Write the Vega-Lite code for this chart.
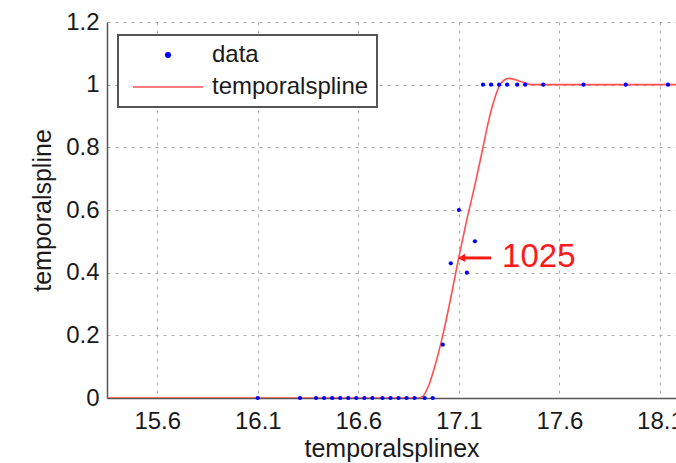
{
  "$schema": "https://vega.github.io/schema/vega-lite/v6.json",
  "autosize": {"type": "none"},
  "width": 569,
  "height": 376,
  "padding": {"left": 107, "top": 22, "right": 0, "bottom": 65},
  "background": "white",
  "datasets": {
    "pts": [
      {"x": 16.10, "y": 0, "series": "data"},
      {"x": 16.31, "y": 0, "series": "data"},
      {"x": 16.39, "y": 0, "series": "data"},
      {"x": 16.43, "y": 0, "series": "data"},
      {"x": 16.47, "y": 0, "series": "data"},
      {"x": 16.51, "y": 0, "series": "data"},
      {"x": 16.55, "y": 0, "series": "data"},
      {"x": 16.59, "y": 0, "series": "data"},
      {"x": 16.63, "y": 0, "series": "data"},
      {"x": 16.67, "y": 0, "series": "data"},
      {"x": 16.72, "y": 0, "series": "data"},
      {"x": 16.76, "y": 0, "series": "data"},
      {"x": 16.80, "y": 0, "series": "data"},
      {"x": 16.84, "y": 0, "series": "data"},
      {"x": 16.88, "y": 0, "series": "data"},
      {"x": 16.93, "y": 0, "series": "data"},
      {"x": 16.97, "y": 0, "series": "data"},
      {"x": 17.02, "y": 0.17, "series": "data"},
      {"x": 17.06, "y": 0.43, "series": "data"},
      {"x": 17.10, "y": 0.60, "series": "data"},
      {"x": 17.14, "y": 0.40, "series": "data"},
      {"x": 17.18, "y": 0.50, "series": "data"},
      {"x": 17.22, "y": 1, "series": "data"},
      {"x": 17.26, "y": 1, "series": "data"},
      {"x": 17.30, "y": 1, "series": "data"},
      {"x": 17.34, "y": 1, "series": "data"},
      {"x": 17.39, "y": 1, "series": "data"},
      {"x": 17.43, "y": 1, "series": "data"},
      {"x": 17.52, "y": 1, "series": "data"},
      {"x": 17.72, "y": 1, "series": "data"},
      {"x": 17.93, "y": 1, "series": "data"},
      {"x": 18.14, "y": 1, "series": "data"}
    ],
    "spline": [
      {"x": 15.35, "y": 0, "series": "temporalspline"},
      {"x": 16.90, "y": 0, "series": "temporalspline"},
      {"x": 16.92, "y": 0.005, "series": "temporalspline"},
      {"x": 16.95, "y": 0.04, "series": "temporalspline"},
      {"x": 16.98, "y": 0.10, "series": "temporalspline"},
      {"x": 17.02, "y": 0.20, "series": "temporalspline"},
      {"x": 17.06, "y": 0.32, "series": "temporalspline"},
      {"x": 17.10, "y": 0.45, "series": "temporalspline"},
      {"x": 17.14, "y": 0.57, "series": "temporalspline"},
      {"x": 17.18, "y": 0.68, "series": "temporalspline"},
      {"x": 17.22, "y": 0.80, "series": "temporalspline"},
      {"x": 17.25, "y": 0.89, "series": "temporalspline"},
      {"x": 17.28, "y": 0.96, "series": "temporalspline"},
      {"x": 17.31, "y": 1.005, "series": "temporalspline"},
      {"x": 17.35, "y": 1.02, "series": "temporalspline"},
      {"x": 17.40, "y": 1.012, "series": "temporalspline"},
      {"x": 17.46, "y": 1.0, "series": "temporalspline"},
      {"x": 18.18, "y": 1.0, "series": "temporalspline"}
    ],
    "arrow": [{"x": 17.125, "xend": 17.26, "y": 0.447}],
    "head": [{"x": 17.113, "y": 0.447}],
    "note": [{"x": 17.315, "y": 0.45, "label": "1025"}]
  },
  "encoding": {
    "x": {
      "field": "x", "type": "quantitative",
      "scale": {"domain": [15.35, 18.18], "nice": false, "zero": false},
      "axis": {
        "values": [15.6, 16.1, 16.6, 17.1, 17.6, 18.1],
        "format": "~g", "title": "temporalsplinex",
        "labelPadding": 11, "titlePadding": 3,
        "labelFlush": false, "labelOverlap": false
      }
    },
    "y": {
      "field": "y", "type": "quantitative",
      "scale": {"domain": [0, 1.2], "nice": false, "zero": false},
      "axis": {
        "values": [0, 0.2, 0.4, 0.6, 0.8, 1, 1.2],
        "format": "~g", "title": "temporalspline",
        "labelPadding": 8, "titlePadding": 10
      }
    }
  },
  "layer": [
    {
      "data": {"name": "spline"},
      "mark": {"type": "line", "interpolate": "monotone", "strokeWidth": 1.6, "clip": true},
      "encoding": {
        "color": {
          "field": "series", "type": "nominal",
          "scale": {"domain": ["data", "temporalspline"], "range": ["#0000ff", "#ff5050"]},
          "legend": {
            "orient": "none", "legendX": 11, "legendY": 13, "title": null,
            "strokeColor": "#555", "fillColor": "white",
            "padding": 8, "rowPadding": 8,
            "symbolSize": 196, "symbolOffset": 30, "labelOffset": 32,
            "labelFontSize": 24, "labelFont": "Liberation Sans", "labelColor": "#1a1a1a",
            "labelExpr": "datum.label + '\u00a0\u00a0\u00a0\u00a0'",
            "encode": {
              "legend": {"update": {"strokeWidth": {"value": 2}}},
              "symbols": {
                "update": {
                  "shape": {"signal": "datum.value === 'data' ? 'circle' : 'M-5,0L5,0'"},
                  "size": {"signal": "datum.value === 'data' ? 20 : 196"},
                  "fill": {"signal": "datum.value === 'data' ? '#0000ff' : 'transparent'"},
                  "stroke": {"signal": "datum.value === 'data' ? 'transparent' : '#ff5050'"},
                  "strokeWidth": {"value": 1.6},
                  "opacity": {"value": 1}
                }
              }
            }
          }
        }
      }
    },
    {
      "data": {"name": "pts"},
      "mark": {"type": "point", "filled": true, "size": 18, "opacity": 1, "shape": "circle"},
      "encoding": {
        "color": {"field": "series", "type": "nominal"}
      }
    },
    {
      "data": {"name": "arrow"},
      "mark": {"type": "rule", "color": "#ff1a1a", "strokeWidth": 3},
      "encoding": {"x2": {"field": "xend"}}
    },
    {
      "data": {"name": "head"},
      "mark": {"type": "point", "shape": "triangle-left", "filled": true, "color": "#ff1a1a", "size": 70, "opacity": 1}
    },
    {
      "data": {"name": "note"},
      "mark": {"type": "text", "align": "left", "baseline": "middle", "fontSize": 33, "font": "Liberation Sans", "color": "#ff1a1a"},
      "encoding": {"text": {"field": "label"}}
    }
  ],
  "config": {
    "view": {"stroke": null},
    "axis": {
      "labelFont": "Liberation Sans", "titleFont": "Liberation Sans",
      "labelFontSize": 24, "titleFontSize": 25, "titleFontWeight": "normal",
      "labelColor": "#1a1a1a", "titleColor": "#1a1a1a",
      "domainColor": "#555", "domainWidth": 1.5,
      "ticks": false,
      "gridColor": "#aaa", "gridDash": [3, 5], "gridWidth": 1
    }
  }
}
